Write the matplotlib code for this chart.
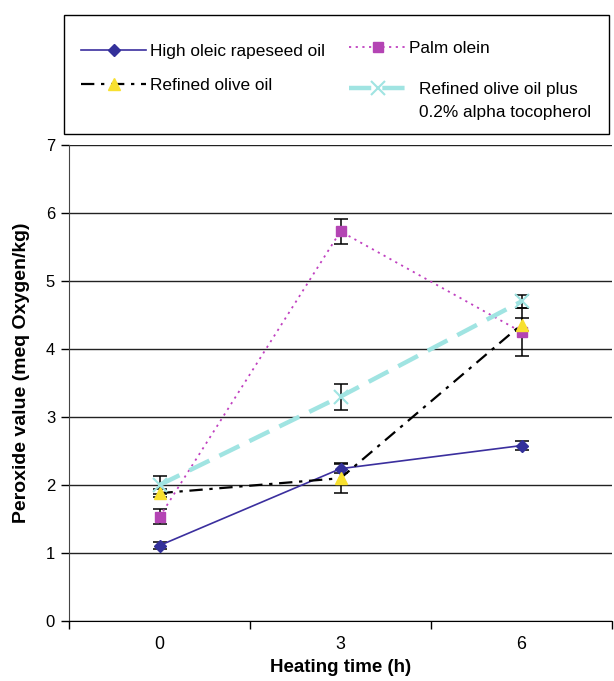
import numpy as np
import matplotlib
matplotlib.use("Agg")
from matplotlib import pyplot as plt
from matplotlib.patches import Rectangle

plt.rcParams['font.family'] = ['Liberation Sans', 'DejaVu Sans']

hours = ['0', '3', '6']

rapeseed = [1.11, 2.24, 2.58]
rapeseed_err = [0.05, 0.07, 0.06]
palm = [1.53, 5.73, 4.25]
palm_err = [0.11, 0.18, 0.35]
olive = [1.88, 2.10, 4.36]
olive_err = [0.06, 0.22, 0.10]
olive_toc = [2.00, 3.30, 4.70]
olive_toc_err = [0.13, 0.19, 0.10]

labels = ['High oleic rapeseed oil', 'Palm olein', 'Refined olive oil',
          'Refined olive oil plus', '0.2% alpha tocopherol']

dpi = 100
fig = plt.figure(figsize=(6.14, 6.81), dpi=dpi)
W, H = 614, 681
ax = fig.add_axes([69 / W, 1 - 621 / H, (612 - 69) / W, (621 - 145) / H])

x = np.arange(len(hours))

# error bars first so markers sit on top
for vals, errs in [(rapeseed, rapeseed_err), (palm, palm_err),
                   (olive, olive_err), (olive_toc, olive_toc_err)]:
    ax.errorbar(x, vals, yerr=errs, fmt='none', ecolor='black',
                elinewidth=1.1, capsize=5, capthick=1.1, zorder=3)

h1, = ax.plot(x, rapeseed, color='#3b2f9e', lw=1.2, marker='D', ms=6,
              mfc='#33309a', mec='#33309a', zorder=4)
h2, = ax.plot(x, palm, color='#c040c0', lw=1.3, ls=(0, (1.2, 2.5)),
              marker='s', ms=7, mfc='#b444b4', mec='#b444b4', zorder=4)
h3, = ax.plot(x, olive, color='black', lw=1.6, ls=(0, (6, 3, 1.5, 3)),
              marker='^', ms=9, mfc='#f8e030', mec='#f8e030', zorder=4)
h4, = ax.plot(x, olive_toc, color='#a0e4e2', lw=3.2, ls=(0, (5, 2.5)),
              marker='x', ms=10, mew=1.5, mec='#a0e4e2', zorder=4)

ax.set_xlim(-0.5, 2.5)
ax.set_ylim(0, 7)
ax.set_yticks(range(0, 8))
ax.set_xticks(x)
ax.set_xticklabels(hours)
ax.set_xticks([-0.5, 0.5, 1.5, 2.5], minor=True)
ax.tick_params(axis='x', which='major', length=0, pad=11, labelsize=12.8)
ax.tick_params(axis='x', which='minor', length=6, width=1, direction='out')
ax.tick_params(axis='y', length=6, width=1, direction='out', labelsize=12, pad=4)
ax.grid(axis='y', color='#222222', lw=1)
ax.set_axisbelow(True)
for s in ['top', 'right']:
    ax.spines[s].set_visible(False)
ax.spines['left'].set_color('#444444')
ax.spines['bottom'].set_color('black')

ax.set_xlabel('Heating time (h)', fontsize=13.5, fontweight='bold', labelpad=4)
ax.set_ylabel('Peroxide value (meq Oxygen/kg)', fontsize=14, fontweight='bold')
ax.yaxis.set_label_coords(-0.072, 0.521)

# legend frame spans x 64..609, y 15..134 (pixels)
fig.add_artist(Rectangle((64 / W, 1 - 134 / H), 545 / W, 119 / H,
                         transform=fig.transFigure, fill=False,
                         ec='black', lw=1.0))

def legend_entry(handle, label, x0, yc, hl, pad):
    # one legend entry, handle's left edge at x0, centred on yc (pixels)
    return fig.legend([handle], [label], loc='center left',
                      bbox_to_anchor=(x0 / W, 1 - yc / H), frameon=False,
                      fontsize=12.4, handlelength=hl, handletextpad=pad,
                      borderpad=0, borderaxespad=0)

legend_entry(h1, labels[0], 81, 51, 3.78, 0.25)
legend_entry(h3, labels[2], 81, 85, 3.78, 0.25)
legend_entry(h2, labels[1], 349, 48, 3.37, 0.12)
legend_entry(h4, labels[3], 349, 89, 3.37, 0.7)
fig.text(419 / W, 1 - 112 / H, labels[4], fontsize=12.4, ha='left', va='center')

fig.savefig('out.png', dpi=dpi)
